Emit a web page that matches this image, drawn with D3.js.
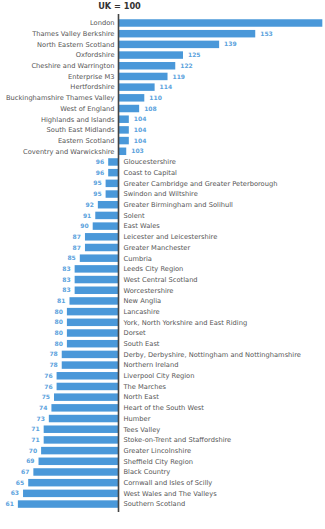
<!DOCTYPE html>
<html>
<head>
<meta charset="utf-8">
<script src="https://cdn.jsdelivr.net/npm/d3@7"></script>
<style>
  body { margin: 0; background: #fff; }
  #chart { width: 325px; height: 529px; }
</style>
</head>
<body>
<div id="chart"></div>
<script>
const regions = [
    "London", "Thames Valley Berkshire", "North Eastern Scotland", "Oxfordshire",
    "Cheshire and Warrington", "Enterprise M3", "Hertfordshire", "Buckinghamshire Thames Valley",
    "West of England", "Highlands and Islands", "South East Midlands", "Eastern Scotland",
    "Coventry and Warwickshire", "Gloucestershire", "Coast to Capital",
    "Greater Cambridge and Greater Peterborough", "Swindon and Wiltshire",
    "Greater Birmingham and Solihull", "Solent", "East Wales", "Leicester and Leicestershire",
    "Greater Manchester", "Cumbria", "Leeds City Region", "West Central Scotland",
    "Worcestershire", "New Anglia", "Lancashire", "York, North Yorkshire and East Riding",
    "Dorset", "South East", "Derby, Derbyshire, Nottingham and Nottinghamshire",
    "Northern Ireland", "Liverpool City Region", "The Marches", "North East",
    "Heart of the South West", "Humber", "Tees Valley", "Stoke-on-Trent and Staffordshire",
    "Greater Lincolnshire", "Sheffield City Region", "Black Country",
    "Cornwall and Isles of Scilly", "West Wales and The Valleys", "Southern Scotland"
];
const index = [
    179, 153, 139, 125, 122, 119, 114, 110, 108, 104, 104, 104, 103,
    96, 96, 95, 95, 92, 91, 90, 87, 87, 85, 83, 83, 83, 81, 80, 80, 80, 80,
    78, 78, 76, 76, 75, 74, 73, 71, 71, 70, 69, 67, 65, 63, 61
];
const baseline = 100;
const title = "UK = 100";

function drawChart() {
    const width = 325, height = 529;
    const data = regions.map((name, i) => ({ name: name, value: index[i] }));

    const svg = d3.select("#chart").append("svg")
        .attr("width", width)
        .attr("height", height);

    const x = d3.scaleLinear()
        .domain([60, 180])
        .range([15.3, 324.9]);

    const y = d3.scaleBand()
        .domain(regions)
        .range([17.65, 509.4])
        .paddingInner(0.3)
        .paddingOuter(0.15);

    const x0 = x(baseline);

    // bars
    svg.selectAll("rect.bar")
        .data(data)
        .enter()
        .append("rect")
        .attr("class", "bar")
        .attr("x", d => Math.min(x(d.value), x0))
        .attr("y", d => y(d.name))
        .attr("width", d => Math.abs(x(d.value) - x0))
        .attr("height", y.bandwidth())
        .attr("fill", "#4a98d9");

    // region names, on the opposite side of the bar
    svg.selectAll("text.name")
        .data(data)
        .enter()
        .append("text")
        .attr("class", "name")
        .attr("x", d => d.value >= baseline ? x0 - 4 : x0 + 5)
        .attr("y", d => y(d.name) + y.bandwidth() / 2)
        .attr("dy", "0.35em")
        .attr("text-anchor", d => d.value >= baseline ? "end" : "start")
        .style("font-family", "'DejaVu Sans', sans-serif")
        .style("font-size", "6.7px")
        .style("fill", "#555")
        .text(d => d.name);

    // values at the end of each bar (the London one runs off the page, so skip it)
    svg.selectAll("text.value")
        .data(data.filter(d => x(d.value) + 15 < width))
        .enter()
        .append("text")
        .attr("class", "value")
        .attr("x", d => d.value >= baseline ? x(d.value) + 5 : x(d.value) - 4)
        .attr("y", d => y(d.name) + y.bandwidth() / 2)
        .attr("dy", "0.35em")
        .attr("text-anchor", d => d.value >= baseline ? "start" : "end")
        .style("font-family", "'DejaVu Sans', sans-serif")
        .style("font-size", "6px")
        .style("font-weight", "bold")
        .style("fill", "#5ba2dd")
        .text(d => d.value);

    // baseline axis at UK = 100
    svg.append("line")
        .attr("x1", x0).attr("x2", x0)
        .attr("y1", 14).attr("y2", 512)
        .attr("stroke", "#444")
        .attr("stroke-width", 1.6);

    svg.append("text")
        .attr("x", x0 + 1)
        .attr("y", 8.5)
        .attr("text-anchor", "middle")
        .style("font-family", "'DejaVu Sans', sans-serif")
        .style("font-size", "8.2px")
        .style("font-weight", "bold")
        .style("fill", "#333")
        .text(title);
}

drawChart();
</script>
</body>
</html>
